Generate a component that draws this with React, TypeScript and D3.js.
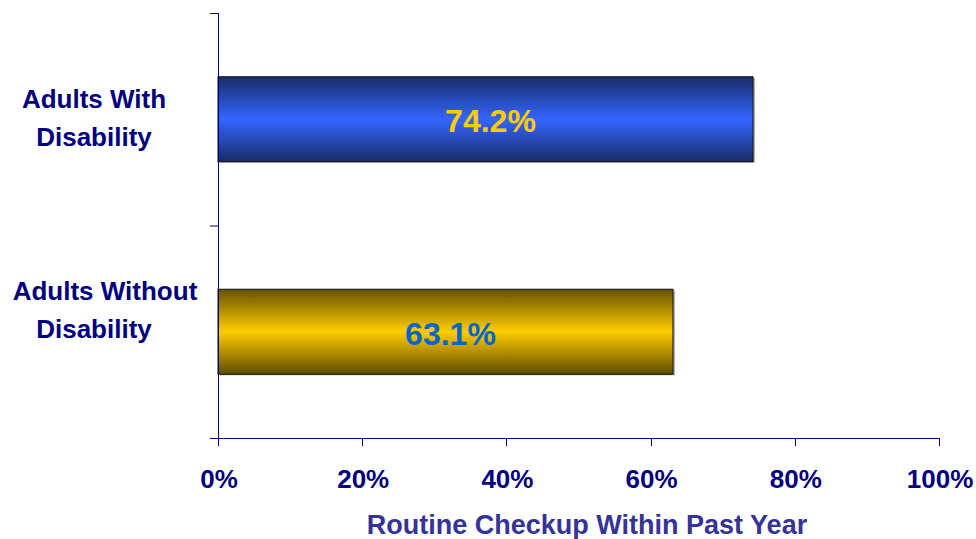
import React from "react";
import * as d3 from "d3";

const categories: string[][] = [["Adults With", "Disability"], ["Adults Without", "Disability"]];
const values: number[] = [74.2, 63.1];
const xTicks: number[] = [0, 20, 40, 60, 80, 100];
const axisTitle = "Routine Checkup Within Past Year";

const W = 976;
const H = 539;
const FONT = "Arial, 'Liberation Sans', Helvetica, sans-serif";

// label placement tweaks (layout, not data)
const labelDy = [0, -20];
const lineDx = [
  [0, 0],
  [11, 0],
];

export default function App() {
  const x = d3.scaleLinear().domain([0, 100]).range([218, 939]);
  const y = d3
    .scaleBand<number>()
    .domain(d3.range(values.length))
    .range([13, 438])
    .paddingInner(0.6)
    .paddingOuter(0.3);
  const step = y.step();
  const gradIds = ["gBlue", "gGold"];
  const labelColors = ["#FFCC00", "#0066CC"];
  const catTicks = [13, 13 + step, 13 + 2 * step];

  return (
    <div style={{ position: "absolute", left: 0, top: 0 }}>
      <svg width={W} height={H} style={{ display: "block", background: "#fff" }}>
        <defs>
          <linearGradient id="gBlue" x1="0" y1="0" x2="0" y2="1">
            <stop offset="0%" stopColor="#182a68" />
            <stop offset="50%" stopColor="#3366ff" />
            <stop offset="100%" stopColor="#182a68" />
          </linearGradient>
          <linearGradient id="gGold" x1="0" y1="0" x2="0" y2="1">
            <stop offset="0%" stopColor="#665200" />
            <stop offset="50%" stopColor="#ffcc00" />
            <stop offset="100%" stopColor="#5e4c00" />
          </linearGradient>
        </defs>

        {/* bars */}
        {values.map((v, i) => (
          <g key={i}>
            <rect
              x={x(0) + 2}
              y={(y(i) as number) + 1}
              width={x(v) - x(0)}
              height={y.bandwidth()}
              fill="#aaaaaa"
            />
            <rect
              x={x(0)}
              y={y(i) as number}
              width={x(v) - x(0)}
              height={y.bandwidth()}
              fill={`url(#${gradIds[i]})`}
              stroke="#111"
              strokeWidth={1}
            />
            <text
              x={(x(0) + x(v)) / 2 + 5}
              y={(y(i) as number) + y.bandwidth() / 2 + 13}
              textAnchor="middle"
              fontFamily={FONT}
              fontWeight="bold"
              fontSize={32}
              fill={labelColors[i]}
            >
              {v.toFixed(1)}%
            </text>
          </g>
        ))}

        {/* y axis */}
        <line x1={218.5} x2={218.5} y1={13} y2={438} stroke="#000080" strokeWidth={1} />
        {catTicks.map((t, i) => (
          <line key={i} x1={210} x2={218} y1={t + 0.5} y2={t + 0.5} stroke="#000080" strokeWidth={1} />
        ))}

        {/* x axis */}
        <line x1={210} x2={939.5} y1={438.5} y2={438.5} stroke="#000080" strokeWidth={1} />
        {xTicks.map((t) => (
          <g key={t}>
            <line x1={Math.round(x(t)) + 0.5} x2={Math.round(x(t)) + 0.5} y1={438} y2={446} stroke="#000080" strokeWidth={1} />
            <text
              x={x(t) + 1}
              y={488}
              textAnchor="middle"
              fontFamily={FONT}
              fontWeight="bold"
              fontSize={26}
              fill="#000080"
            >
              {t}%
            </text>
          </g>
        ))}

        {/* category labels */}
        {categories.map((lines, i) => (
          <text
            key={i}
            textAnchor="middle"
            fontFamily={FONT}
            fontWeight="bold"
            fontSize={26}
            fill="#000080"
          >
            {lines.map((ln, j) => (
              <tspan key={j} x={94 + lineDx[i][j]} y={(y(i) as number) + 31 + labelDy[i] + j * 38}>
                {ln}
              </tspan>
            ))}
          </text>
        ))}

        {/* axis title */}
        <text
          x={587}
          y={534}
          textAnchor="middle"
          fontFamily={FONT}
          fontWeight="bold"
          fontSize={27}
          fill="#333399"
        >
          {axisTitle}
        </text>
      </svg>
    </div>
  );
}
